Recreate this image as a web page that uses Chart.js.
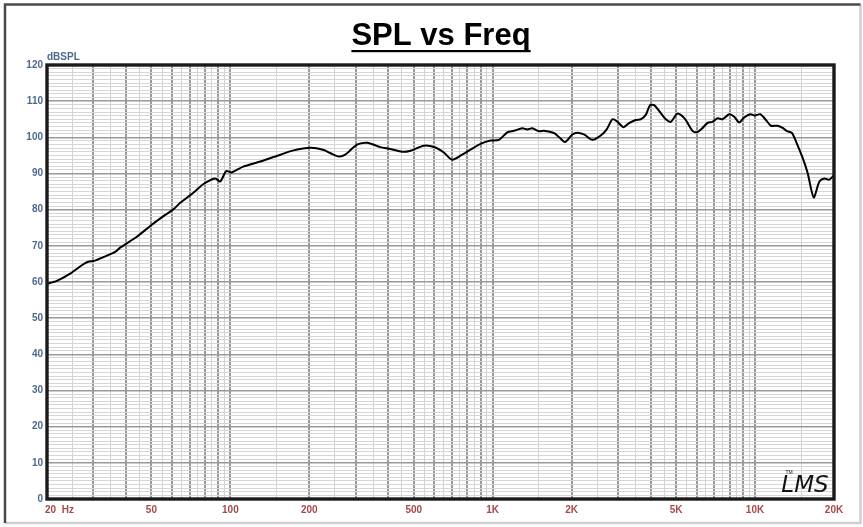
<!DOCTYPE html>
<html>
<head>
<meta charset="utf-8">
<script src="https://cdn.jsdelivr.net/npm/chart.js@4/dist/chart.umd.min.js"></script>
<style>
  html, body { margin: 0; padding: 0; background: #ffffff; }
  canvas { display: block; }
</style>
</head>
<body>
<canvas id="c" width="863" height="527"></canvas>
<script>
// ---- Data ----
const freqHz = [20, 21.8, 24.5, 27.5, 28.7, 30.5, 32.8, 36.4, 38, 44, 49.5, 55.6, 60.7, 64.4, 72.3, 79, 87.5, 91.5, 96.5, 101,
  112, 130, 155, 174, 202, 227, 241, 259, 274, 304, 332, 373, 408, 452, 486, 546, 605, 651, 701, 765, 823, 899, 981,
  1056, 1137, 1204, 1296, 1355, 1416, 1501, 1568, 1712, 1789, 1886, 2012, 2102, 2228, 2400, 2581, 2720, 2861, 2989,
  3151, 3310, 3510, 3668, 3832, 3980, 4124, 4374, 4570, 4775, 5034, 5212, 5446, 5776, 6000, 6252, 6592, 6887, 7198,
  7522, 7972, 8330, 8703, 9094, 9588, 9985, 10466, 11005, 11498, 12195, 12744, 13234, 13828, 14321, 15190, 15873,
  16736, 17580, 18365, 19187, 20000];
const splDb = [59.5, 60.3, 62.3, 64.9, 65.6, 65.9, 66.9, 68.3, 69.5, 72.5, 75.5, 78.2, 80.1, 81.9, 84.7, 87.1, 88.6, 87.8, 90.7, 90.3,
  91.9, 93.3, 95.2, 96.4, 97.1, 96.5, 95.6, 94.7, 95.2, 98.0, 98.5, 97.3, 96.8, 96.0, 96.3, 97.7, 97.2, 95.8, 93.8, 95.2, 96.6, 98.2, 99.1,
  99.3, 101.4, 101.8, 102.5, 102.2, 102.5, 101.7, 101.8, 101.2, 100.1, 98.7, 100.8, 101.3, 100.8, 99.3, 100.5, 102.2, 105.0, 104.3,
  102.8, 103.9, 104.8, 105.0, 106.2, 108.9, 108.9, 106.7, 105.0, 104.3, 106.5, 106.2, 104.8, 101.8, 101.4, 102.3, 104.0, 104.3, 105.3,
  105.0, 106.4, 105.7, 104.1, 105.5, 106.4, 106.0, 106.4, 104.8, 103.2, 103.2, 102.6, 101.7, 101.2, 98.9, 94.3, 90.1,
  83.4, 87.7, 88.6, 88.3, 89.5];

const yMin = 0, yMax = 120, yGridStep = 1, yLabelStep = 10;
const xMin = 20, xMax = 20000;
const xLabelValues = [20, 50, 100, 200, 500, 1000, 2000, 5000, 10000, 20000];
const xLabelTexts  = ['20  Hz', '50', '100', '200', '500', '1K', '2K', '5K', '10K', '20K'];
const gridMantissas = [1, 1.5, 2, 2.5, 3, 3.5, 4, 4.5, 5, 5.5, 6, 6.5, 7, 7.5, 8, 8.5, 9, 9.5];

const titleText = 'SPL vs Freq';
const yUnitText = 'dBSPL';
const logoText = 'LMS';

// ---- grid tick positions on the log axis ----
const xGridValues = [];
[10, 100, 1000, 10000].forEach(d => gridMantissas.forEach(m => {
  const v = Math.round(m * d * 10) / 10;
  if (v >= xMin && v <= xMax) xGridValues.push(v);
}));
if (!xGridValues.includes(xMax)) xGridValues.push(xMax);

function isMajorX(v) {
  const m = v / Math.pow(10, Math.floor(Math.log10(v) + 1e-9));
  return Math.abs(m - Math.round(m)) < 1e-6;
}

const FONT = '"Liberation Sans", Arial, sans-serif';

const decorPlugin = {
  id: 'decor',
  beforeDraw(chart) {
    const ctx = chart.ctx;
    ctx.save();
    ctx.fillStyle = '#ffffff';
    ctx.fillRect(0, 0, chart.width, chart.height);
    // outer bevel frame
    ctx.lineWidth = 2.5;
    ctx.strokeStyle = '#cfcfcf';
    ctx.beginPath();
    ctx.moveTo(860.5, 4.5); ctx.lineTo(860.5, 523); ctx.lineTo(5, 523);
    ctx.stroke();
    ctx.strokeStyle = '#4a4a4a';
    ctx.beginPath();
    ctx.moveTo(5, 523); ctx.lineTo(5, 4.5); ctx.lineTo(860.5, 4.5);
    ctx.stroke();
    ctx.restore();
  },
  afterDatasetsDraw(chart) {
    const ctx = chart.ctx;
    const a = chart.chartArea;
    ctx.save();
    // plot frame
    ctx.lineWidth = 3.4;
    ctx.strokeStyle = '#1a1a1a';
    ctx.strokeRect(a.left, a.top, a.right - a.left, a.bottom - a.top);
    // title
    ctx.fillStyle = '#000000';
    ctx.font = 'bold 31px ' + FONT;
    ctx.textAlign = 'center';
    ctx.textBaseline = 'alphabetic';
    const cx = 441;
    ctx.fillText(titleText, cx, 45);
    const w = ctx.measureText(titleText).width;
    ctx.fillRect(cx - w / 2, 50, w, 2.2);
    // unit label
    ctx.fillStyle = '#4d6a8c';
    ctx.font = 'bold 10px ' + FONT;
    ctx.textAlign = 'left';
    ctx.fillText(yUnitText, a.left, 60);
    // logo
    ctx.fillStyle = '#111111';
    ctx.font = 'italic 23px "DejaVu Sans", sans-serif';
    ctx.textAlign = 'center';
    ctx.fillText(logoText, 805, 492);
    ctx.font = '5px ' + FONT;
    ctx.fillText('TM', 789, 474);
    ctx.restore();
  }
};

new Chart(document.getElementById('c'), {
  type: 'line',
  data: {
    datasets: [{
      data: freqHz.map((f, i) => ({ x: f, y: splDb[i] })),
      borderColor: '#000000',
      borderWidth: 2,
      pointRadius: 0,
      tension: 0.25,
      fill: false
    }]
  },
  options: {
    responsive: false,
    animation: false,
    events: [],
    layout: { padding: { left: 0, top: 65, right: 29, bottom: 0 } },
    plugins: { legend: { display: false }, title: { display: false }, tooltip: { enabled: false } },
    scales: {
      x: {
        type: 'logarithmic',
        min: xMin, max: xMax,
        afterBuildTicks(scale) {
          scale.ticks = xGridValues.map(v => ({ value: v }));
        },
        afterFit(scale) {
          scale.height = 28;
          scale.paddingLeft = 0; scale.paddingRight = 0;
        },
        border: { display: false },
        grid: {
          drawTicks: false,
          color: c => isMajorX(c.tick.value) ? '#9a9a9a' : '#d2d2d2',
          lineWidth: c => isMajorX(c.tick.value) ? 2 : 1
        },
        ticks: {
          autoSkip: false,
          maxRotation: 0,
          padding: 5,
          color: '#a54a4a',
          font: { family: FONT, size: 10, weight: 'bold' },
          callback: function (value) {
            const i = xLabelValues.findIndex(v => Math.abs(v - value) < 1e-6);
            if (i < 0) return '';
            return i === 0 ? ' '.repeat(9) + xLabelTexts[i] : xLabelTexts[i];
          }
        }
      },
      y: {
        type: 'linear',
        min: yMin, max: yMax,
        afterFit(scale) { scale.width = 47; },
        border: { display: false },
        grid: {
          drawTicks: false,
          color: c => (c.tick.value % yLabelStep === 0) ? '#9a9a9a' : '#d6d6d6',
          lineWidth: c => (c.tick.value % yLabelStep === 0) ? 1.6 : 1
        },
        ticks: {
          stepSize: yGridStep,
          maxTicksLimit: 200,
          autoSkip: false,
          padding: 4,
          color: '#4d6a8c',
          font: { family: FONT, size: 10, weight: 'bold' },
          callback: v => (v % yLabelStep === 0) ? String(v) : ''
        }
      }
    }
  },
  plugins: [decorPlugin]
});
</script>
</body>
</html>
